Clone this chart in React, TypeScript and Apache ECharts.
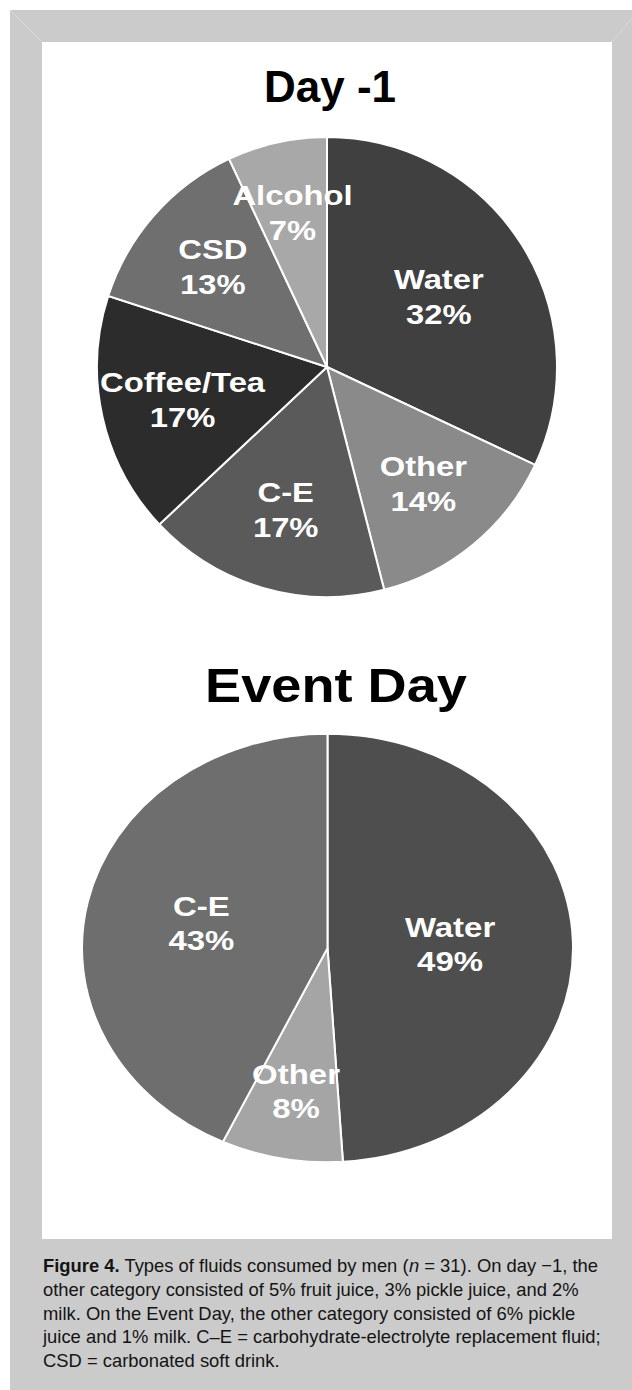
import React, { useEffect, useRef } from "react";
import * as echarts from "echarts";

const day1Names = ["Water", "Other", "C-E", "Coffee/Tea", "CSD", "Alcohol"];
const day1Values = [32, 14, 17, 17, 13, 7];
const day1Colors = ["#404040", "#8a8a8a", "#5a5a5a", "#2c2c2c", "#6f6f6f", "#a8a8a8"];

const eventNames = ["Water", "Other", "C-E"];
const eventValues = [49, 8, 43];
const eventColors = ["#4e4e4e", "#a5a5a5", "#6e6e6e"];

const titles = ["Day -1", "Event Day"];

const captionLines = [
  "{b|Figure 4.} Types of fluids consumed by men ({i|n} = 31). On day \u22121, the",
  "other category consisted of 5% fruit juice, 3% pickle juice, and 2%",
  "milk. On the Event Day, the other category consisted of 6% pickle",
  "juice and 1% milk. C\u2013E = carbohydrate-electrolyte replacement fluid;",
  "CSD = carbonated soft drink.",
];

const FONT = '"Liberation Sans", Arial, Helvetica, sans-serif';

type Geom = { cx: number; cy: number; rx: number; ry: number; fontSize: number; lineHeight: number; textScale: number };

function makeRender(names: string[], values: number[], colors: string[], g: Geom) {
  const total = values.reduce((a, b) => a + b, 0);
  return (params: any, api: any) => {
    const i = params.dataIndex;
    let before = 0;
    for (let k = 0; k < i; k++) before += values[k];
    const v = api.value(0);
    const a0 = (before / total) * Math.PI * 2;
    const a1 = ((before + v) / total) * Math.PI * 2;
    const mid = (a0 + a1) / 2;
    const ratio = 0.72 - 0.0045 * v;
    const lx = g.cx + Math.sin(mid) * g.rx * ratio;
    const ly = g.cy - Math.cos(mid) * g.ry * ratio;
    return {
      type: "group",
      children: [
        {
          type: "group",
          x: g.cx,
          y: g.cy,
          scaleY: g.ry / g.rx,
          children: [
            {
              type: "sector",
              shape: {
                cx: 0,
                cy: 0,
                r: g.rx,
                r0: 0,
                startAngle: a0 - Math.PI / 2,
                endAngle: a1 - Math.PI / 2,
                clockwise: true,
              },
              style: { fill: colors[i], stroke: "#ffffff", lineWidth: 2 },
            },
          ],
        },
        {
          type: "text",
          x: lx,
          y: ly,
          scaleX: g.textScale,
          z2: 10,
          style: {
            text: names[i] + "\n" + v + "%",
            fill: "#ffffff",
            fontFamily: FONT,
            fontWeight: "bold",
            fontSize: g.fontSize,
            lineHeight: g.lineHeight,
            align: "center",
            verticalAlign: "middle",
          },
        },
      ],
    };
  };
}

export default function App() {
  const ref = useRef<HTMLDivElement>(null);
  useEffect(() => {
    document.body.style.margin = "0";
    if (!ref.current) return;
    const chart = echarts.init(ref.current, null, { renderer: "svg" });
    const g1: Geom = { cx: 327, cy: 367, rx: 230, ry: 230, fontSize: 28, lineHeight: 35, textScale: 1.17 };
    const g2: Geom = { cx: 327.5, cy: 948, rx: 245.5, ry: 214, fontSize: 27, lineHeight: 34, textScale: 1.22 };

    const capSize = 18.4;
    const graphics: any[] = [
      { type: "rect", shape: { x: 10, y: 10, width: 622, height: 1380 }, style: { fill: "#cbcbcb" }, z: -10 },
      { type: "rect", shape: { x: 42, y: 42, width: 570, height: 1197 }, style: { fill: "#ffffff" }, z: -9 },
      { type: "line", shape: { x1: 10, y1: 10, x2: 42, y2: 42 }, style: { stroke: "#dadada", lineWidth: 1 }, z: -9 },
      { type: "line", shape: { x1: 632, y1: 18, x2: 612, y2: 42 }, style: { stroke: "#dadada", lineWidth: 1 }, z: -9 },
      {
        type: "text",
        x: 330,
        y: 102 - 0.3465 * 44,
        z: 20,
        style: { text: titles[0], fill: "#000", fontFamily: FONT, fontWeight: "bold", fontSize: 44, align: "center", verticalAlign: "middle" },
      },
      {
        type: "text",
        x: 336,
        y: 702 - 0.3465 * 47.5,
        scaleX: 1.14,
        z: 20,
        style: { text: titles[1], fill: "#000", fontFamily: FONT, fontWeight: "bold", fontSize: 47.5, align: "center", verticalAlign: "middle" },
      },
    ];
    captionLines.forEach((line, k) => {
      graphics.push({
        type: "text",
        x: 43,
        y: 1272 + k * 23.7 - 0.3465 * capSize,
        z: 20,
        style: {
          text: line,
          fill: "#141414",
          fontFamily: FONT,
          fontSize: capSize,
          align: "left",
          verticalAlign: "middle",
          rich: {
            b: { fontFamily: FONT, fontSize: capSize, fontWeight: "bold", fill: "#141414" },
            i: { fontFamily: FONT, fontSize: capSize, fontStyle: "italic", fill: "#141414" },
          },
        },
      });
    });

    chart.setOption({
      animation: false,
      graphic: graphics,
      series: [
        {
          type: "custom",
          coordinateSystem: "none",
          data: day1Values.map((v, i) => ({ name: day1Names[i], value: [v] })),
          renderItem: makeRender(day1Names, day1Values, day1Colors, g1),
          silent: true,
        },
        {
          type: "custom",
          coordinateSystem: "none",
          data: eventValues.map((v, i) => ({ name: eventNames[i], value: [v] })),
          renderItem: makeRender(eventNames, eventValues, eventColors, g2),
          silent: true,
        },
      ],
    });
    return () => chart.dispose();
  }, []);
  return <div ref={ref} style={{ width: 632, height: 1390 }} />;
}
